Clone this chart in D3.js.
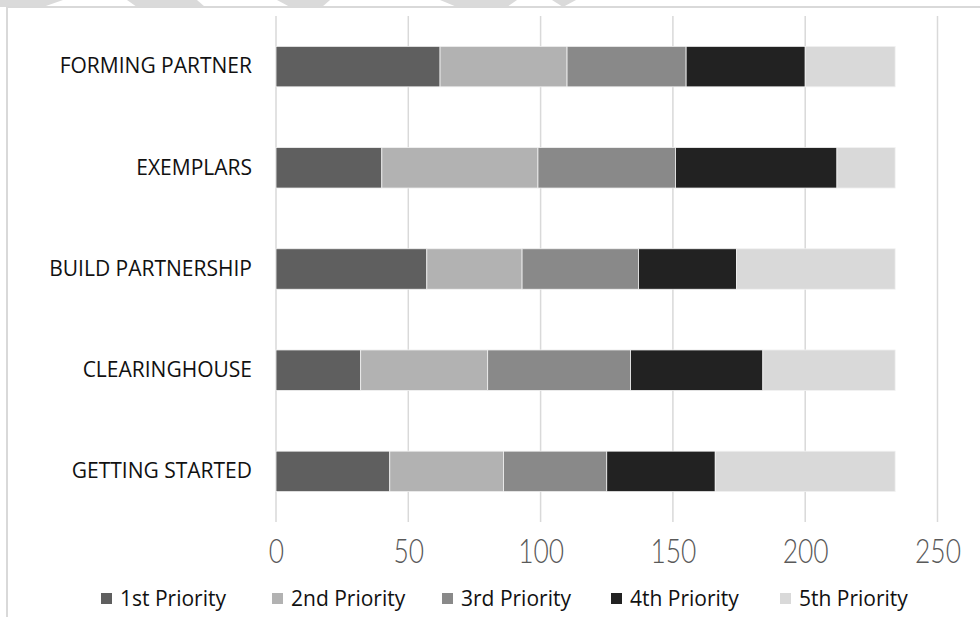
<!DOCTYPE html>
<html>
<head>
<meta charset="utf-8">
<script src="https://cdn.jsdelivr.net/npm/d3@7"></script>
<style>
  body { margin: 0; background: #fff; }
  svg { display: block; }
</style>
</head>
<body>
<script>
var width = 980, height = 617;

// data
var categories = ["FORMING PARTNER", "EXEMPLARS", "BUILD PARTNERSHIP", "CLEARINGHOUSE", "GETTING STARTED"];
var seriesNames = ["1st Priority", "2nd Priority", "3rd Priority", "4th Priority", "5th Priority"];
var first  = [62, 40, 57, 32, 43];
var second = [48, 59, 36, 48, 43];
var third  = [45, 52, 44, 54, 39];
var fourth = [45, 61, 37, 50, 41];
var fifth  = [34, 22, 60, 50, 68];
var xTicks = [0, 50, 100, 150, 200, 250];

var colors = ["#5f5f5f", "#b2b2b2", "#898989", "#222222", "#d9d9d9"];

var rows = categories.map(function(c, i) {
  return { cat: c, s0: first[i], s1: second[i], s2: third[i], s3: fourth[i], s4: fifth[i] };
});
var stack = d3.stack().keys(["s0", "s1", "s2", "s3", "s4"])(rows);

var svg = d3.select("body").append("svg")
    .attr("width", width)
    .attr("height", height);

// frame + the bits of the page pattern peeking in at the top
var pattern = [
  [[0,0],[63,0],[43,7],[0,7]],
  [[127,0],[197,0],[205,7],[137,7]],
  [[277,0],[330,0],[322,7],[290,7]],
  [[440,0],[517,0],[507,7],[457,7]],
  [[552,0],[576,0],[563,7]]
];
svg.selectAll("polygon.pat").data(pattern).enter().append("polygon")
    .attr("class", "pat")
    .attr("points", function(d) { return d.map(function(p) { return p.join(","); }).join(" "); })
    .style("fill", "#dadada");

svg.append("path")
    .attr("d", "M7,617 L7,7 L980,7")
    .style("fill", "none")
    .style("stroke", "#d9d9d9")
    .style("stroke-width", 2);

var x = d3.scaleLinear().domain([0, 250]).range([276, 937.5]);
var y = d3.scaleBand().domain(categories).range([16, 522])
    .paddingInner(0.6).paddingOuter(0.3);

// gridlines
svg.selectAll("line.grid").data(xTicks).enter().append("line")
    .attr("class", "grid")
    .attr("x1", function(d) { return x(d); })
    .attr("x2", function(d) { return x(d); })
    .attr("y1", 16)
    .attr("y2", 522)
    .style("stroke", "#d9d9d9")
    .style("stroke-width", 1.5);

// bars
var layers = svg.selectAll("g.layer").data(stack).enter().append("g")
    .attr("class", "layer")
    .style("fill", function(d, i) { return colors[i]; });

layers.selectAll("rect").data(function(d) { return d; }).enter().append("rect")
    .attr("x", function(d) { return x(d[0]); })
    .attr("y", function(d) { return y(d.data.cat); })
    .attr("width", function(d) { return x(d[1]) - x(d[0]); })
    .attr("height", y.bandwidth())
    .style("stroke", "#f2f2f2")
    .style("stroke-width", 0.8);

// x axis labels
var xAxis = d3.axisBottom(x).tickValues(xTicks).tickSize(0).tickPadding(0);
var gx = svg.append("g")
    .attr("transform", "translate(0,540)")
    .call(xAxis);
gx.select(".domain").remove();
gx.selectAll("text")
    .attr("dy", "0.71em")
    .attr("transform", "scale(0.8,1)")
    .style("font-family", "Lato, sans-serif")
    .style("font-weight", 300)
    .style("font-size", "33px")
    .style("fill", "#595959");

// category labels
var yAxis = d3.axisLeft(y).tickSize(0).tickPadding(0);
var gy = svg.append("g")
    .attr("transform", "translate(252,0)")
    .call(yAxis);
gy.select(".domain").remove();
gy.selectAll("text")
    .style("font-family", "'Open Sans', sans-serif")
    .style("font-size", "21px")
    .style("fill", "#111");

// legend
var legendX = [101, 272, 442, 611, 780];
var legend = svg.selectAll("g.legend").data(seriesNames).enter().append("g")
    .attr("class", "legend")
    .attr("transform", function(d, i) { return "translate(" + legendX[i] + ",593)"; });
legend.append("rect")
    .attr("width", 11)
    .attr("height", 11)
    .style("fill", function(d, i) { return colors[i]; });
legend.append("text")
    .attr("x", 19)
    .attr("y", 5.5)
    .attr("dy", "0.35em")
    .text(function(d) { return d; })
    .style("font-family", "'Open Sans', sans-serif")
    .style("font-size", "21px")
    .style("fill", "#111");
</script>
</body>
</html>
